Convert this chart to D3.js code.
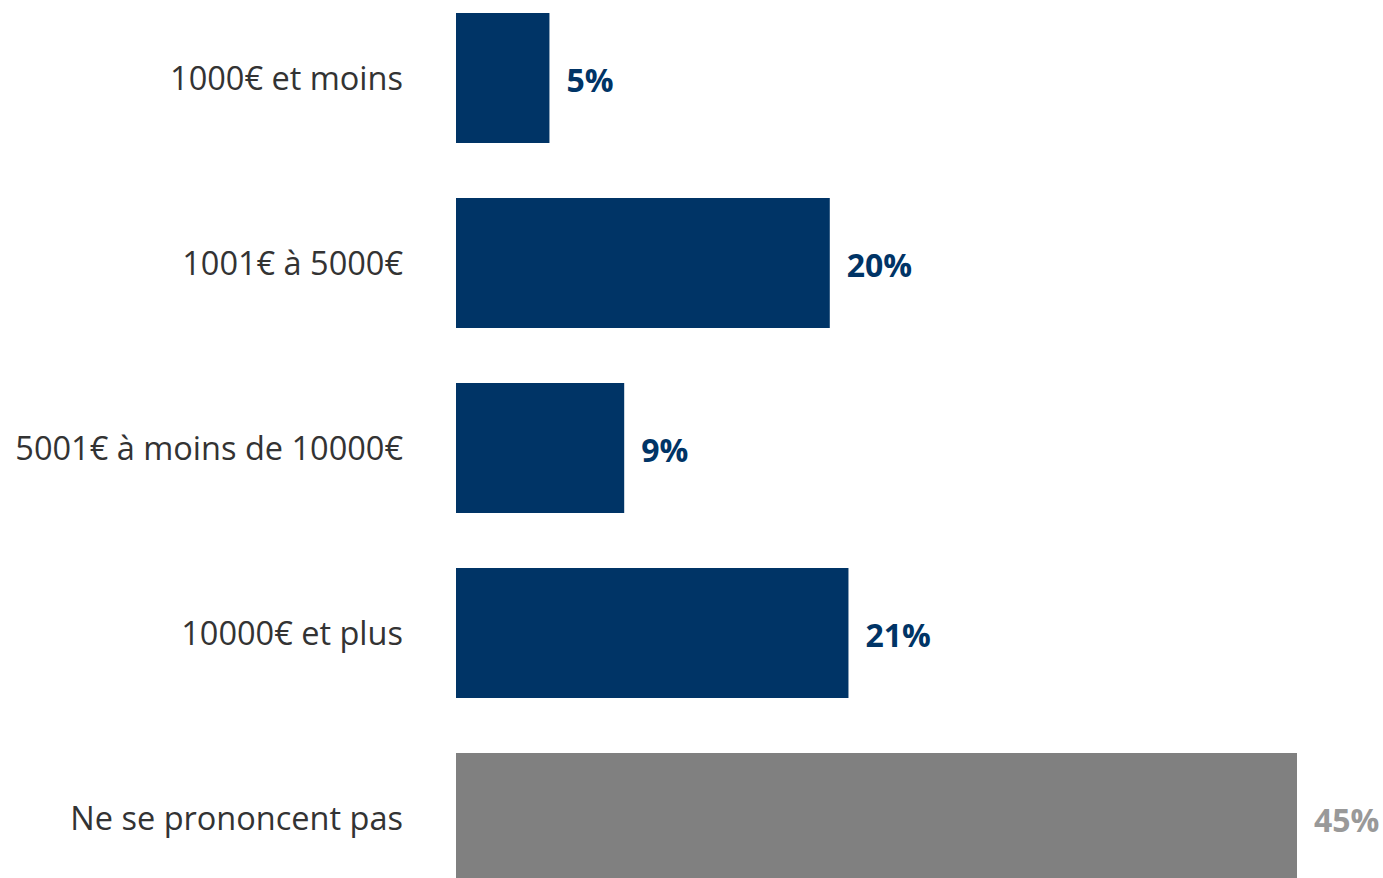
<!DOCTYPE html>
<html>
<head>
<meta charset="utf-8">
<script src="https://cdn.jsdelivr.net/npm/d3@7"></script>
<style>
  html, body { margin: 0; padding: 0; background: #fff; }
  svg { display: block; }
</style>
</head>
<body>
<svg id="chart" width="1383" height="878"></svg>
<script>
const categories = ["1000€ et moins", "1001€ à 5000€", "5001€ à moins de 10000€", "10000€ et plus", "Ne se prononcent pas"];
const values = [5, 20, 9, 21, 45];
const valueLabels = ["5%", "20%", "9%", "21%", "45%"];
const barColors = ["#003466", "#003466", "#003466", "#003466", "#808080"];
const labelColors = ["#003466", "#003466", "#003466", "#003466", "#999999"];

const svg = d3.select("#chart");

const x = d3.scaleLinear().domain([0, 45]).range([456, 1297]);
const y = d3.scaleBand().domain(categories).range([-14.5, 910.5])
  .paddingInner(55 / 185).paddingOuter(55 / 370);

const font = "'Open Sans', sans-serif";

svg.selectAll("rect.bar").data(categories).join("rect")
  .attr("class", "bar")
  .attr("x", x(0))
  .attr("y", d => y(d))
  .attr("width", (d, i) => x(values[i]) - x(0))
  .attr("height", y.bandwidth())
  .attr("fill", (d, i) => barColors[i]);

svg.selectAll("text.cat").data(categories).join("text")
  .attr("class", "cat")
  .attr("x", 403)
  .attr("y", d => y(d) + y.bandwidth() / 2 - 1)
  .attr("text-anchor", "end")
  .attr("dominant-baseline", "central")
  .attr("font-family", font)
  .attr("font-size", 32.5)
  .attr("fill", "#333333")
  .text(d => d);

svg.selectAll("text.val").data(categories).join("text")
  .attr("class", "val")
  .attr("x", (d, i) => x(values[i]) + 17)
  .attr("y", d => y(d) + y.bandwidth() / 2 + 1)
  .attr("dominant-baseline", "central")
  .attr("font-family", font)
  .attr("font-weight", "bold")
  .attr("font-size", 32)
  .attr("fill", (d, i) => labelColors[i])
  .text((d, i) => valueLabels[i]);
</script>
</body>
</html>
